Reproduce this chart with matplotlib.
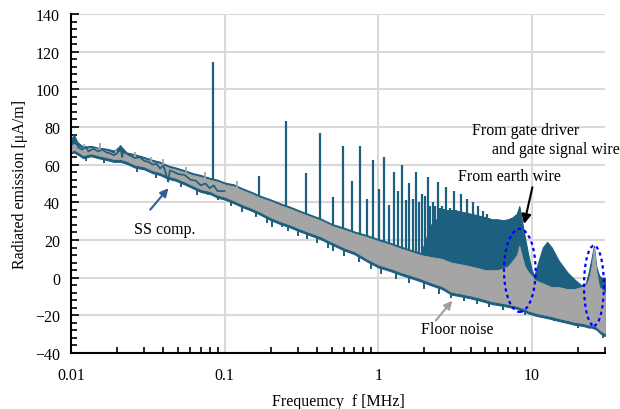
import numpy as np
import matplotlib
matplotlib.use("Agg")
import matplotlib.pyplot as plt
from matplotlib.patches import Ellipse
from matplotlib.ticker import MultipleLocator, LogLocator, NullFormatter

# ---------------- data ----------------
# band frequencies [MHz]
F_band = [0.0100, 0.0104, 0.0110, 0.0120, 0.0135, 0.0150, 0.0170, 0.0190, 0.0210, 0.0230,
          0.0260, 0.0300, 0.0340, 0.0380, 0.0430, 0.0480, 0.0550, 0.0620, 0.0700, 0.0800,
          0.0900, 0.1000, 0.1150, 0.1300, 0.1500, 0.1700, 0.2000, 0.2300, 0.2700, 0.3100,
          0.3600, 0.4200, 0.5000, 0.6000, 0.7000, 0.8500, 1.000, 1.200, 1.400, 1.600,
          1.900, 2.200, 2.600, 3.000, 3.500, 4.000, 4.500, 5.000, 5.500, 6.000,
          6.500, 7.000, 7.500, 8.000, 8.300, 8.600, 9.000, 9.500, 10.00, 10.40,
          11.00, 11.80, 12.60, 13.50, 15.00, 17.00, 19.00, 21.00, 22.50, 23.50,
          24.50, 25.40, 26.30, 27.50, 28.50, 30.00]
# floor noise (gray) band edges [dB]
gray_hi = [70, 71, 70, 68.5, 69, 68.5, 67.5, 66, 67, 65.5,
           64.5, 63, 61.5, 60.5, 58.5, 57.5, 56, 54.5, 53.5, 52,
           51, 49.5, 48.5, 46.5, 44.5, 42.5, 40.5, 38.5, 36.5, 34.5,
           32.5, 30.5, 27.5, 25.5, 23.5, 21.5, 19.5, 17.5, 15.5, 14,
           12, 11, 10, 8, 7, 6, 5, 4, 4, 4,
           5, 6, 9, 12, 17, 12, 6, 3, 1, -1,
           -2, -3, -4, -5, -5, -6, -6, -5, -4, -1,
           6, 16, 4, -5, -6, -8]
gray_lo = [67, 68, 67, 65, 66, 65, 64, 63, 63, 62,
           60, 59, 57, 56, 54, 53, 51, 49, 47, 46,
           44, 43, 41, 39, 37, 35, 32, 30, 28, 26,
           24, 22, 19, 16, 14, 10, 7, 5, 3, 1.5,
           -0.5, -2.5, -4.5, -7.5, -8.5, -9.5, -10.5, -11.5, -12.5, -13,
           -13.5, -14, -14.5, -15, -15.5, -16, -16.5, -17.5, -18, -18.5,
           -19, -19.5, -20, -20.5, -21.5, -22.5, -23.5, -24, -24.5, -25,
           -25, -25.5, -26, -27.5, -28.5, -29.5]
# measured emission (teal) band edges [dB]
teal_hi = [72, 76, 72, 69.5, 70, 69, 68.5, 67.5, 70, 66.5,
           65.5, 64, 62.5, 61.5, 59.5, 58.5, 57, 55.5, 54.5, 53,
           52, 50.5, 49.5, 47.5, 45.5, 43.5, 41.5, 39.5, 37.5, 35.5,
           33.5, 31.5, 28.5, 26.5, 24.5, 22.5, 20.5, 18.5, 16.5, 15,
           13, 28, 34, 36, 35, 34, 33, 32, 31, 31,
           30.5, 31, 32, 34, 38, 31, 22, 12, 4, 1,
           8, 16, 19, 16, 9, 3, -1, -4, -3, 3,
           10, 17, 6, 1, 0, 0]
teal_lo = [66, 66.5, 65.5, 63.5, 64.5, 63.5, 62.5, 61.5, 61.5, 60.5,
           58.5, 57.5, 55.5, 54.5, 52.5, 51.5, 49.5, 47.5, 45.5, 44.5,
           42.5, 41.5, 39.5, 37.5, 35.5, 33.5, 30.5, 28.5, 26.5, 24.5,
           22.5, 20.5, 17.5, 14.5, 12.5, 8.5, 5.5, 3.5, 1.5, 0,
           -2, -4, -6, -9, -10, -11, -12, -13, -14, -14.5,
           -15, -15.5, -16, -16.5, -17, -17.5, -18, -19, -19.5, -20,
           -20.5, -21, -21.5, -22, -23, -24, -25, -25.5, -26, -26.5,
           -26.5, -27, -27.5, -29, -30, -31]

# low-frequency part of the measured trace, visible over the floor noise
lf_f = [0.0100, 0.0102, 0.0105, 0.0108, 0.0112, 0.0118, 0.0125, 0.0130, 0.0140, 0.0150,
        0.0160, 0.0170, 0.0180, 0.0190, 0.0200, 0.0210, 0.0215, 0.0220, 0.0240, 0.0260,
        0.0280, 0.0300, 0.0320, 0.0340, 0.0360, 0.0380, 0.0400, 0.0430, 0.0440, 0.0470,
        0.0500, 0.0550, 0.0600, 0.0650, 0.0700, 0.0750, 0.0800, 0.0850, 0.0900, 0.1000]
lf_db = [70, 73, 75.5, 72, 69, 68, 69.5, 67, 68.5, 67,
         68, 66.5, 66, 65, 66, 70, 64, 67, 65, 63.5,
         64, 62, 61.5, 60, 60.5, 58, 59.5, 51, 57, 56,
         55, 54.5, 52, 51.5, 49, 50, 47.5, 49, 46, 46]

# downward noise dips of the measured emission
dip_f = [0.0125, 0.0165, 0.027, 0.036, 0.043, 0.052, 0.066, 0.078, 0.090, 0.110,
         0.130, 0.160, 0.190, 0.205, 0.235, 0.260, 0.300, 0.345, 0.400, 0.470,
         0.510, 0.600, 0.750, 0.900, 1.050, 1.300, 1.600, 2.000, 2.500, 3.000,
         3.600, 4.400, 5.300, 6.500, 9.000, 14.00, 20.00, 29.00]
dip_db = [62, 61, 56, 53, 50.6, 48, 44, 44, 41, 38,
          35, 32, 29, 27, 27, 25, 22, 20.5, 18.5, 15.5,
          14, 11.5, 8.5, 4.5, 2, -0.5, -3, -6, -8.5, -11,
          -12.5, -14, -15.5, -17, -20, -23, -26.5, -32]
# upward noise peaks of the floor noise
gpk_f = [0.0122, 0.0155, 0.0195, 0.026, 0.033, 0.040, 0.056, 0.075, 0.120]
gpk_db = [71, 71.5, 68.5, 66.5, 64, 63, 59, 56, 51.5]

# harmonic spikes of the measured emission
spike_f = [0.084, 0.168, 0.253, 0.337, 0.421, 0.505, 0.589, 0.674, 0.758, 0.842,
           0.926, 1.010, 1.095, 1.179, 1.263, 1.347, 1.431, 1.516, 1.600, 1.684,
           1.768, 1.852, 1.937, 2.021, 2.105, 2.189, 2.273, 2.358, 2.442, 2.526,
           2.610, 2.694, 2.779, 2.863, 2.947, 3.031, 3.115, 3.200, 3.284, 3.368,
           3.452, 3.536, 3.620, 3.705, 3.789, 3.873, 3.957, 4.041, 4.126, 4.210,
           4.294, 4.378, 4.463, 4.547, 4.631, 4.715, 4.799, 4.884, 4.968, 5.052,
           5.136, 5.221, 5.305, 5.389]
spike_db = [114.5, 54, 83, 55.5, 77, 43, 70, 51.5, 70, 42,
            62.7, 47, 64.3, 38.6, 56, 46, 60, 41, 50, 42,
            56, 40, 44.4, 43.5, 53.3, 38, 40, 38, 50.6, 37,
            38, 36.5, 48, 36, 37, 35.5, 46.2, 36, 35, 35,
            44.4, 35, 34.5, 34, 41.8, 34, 34, 33.5, 40, 33,
            33, 33, 38.2, 32.5, 32.5, 32, 35.6, 32, 32, 31.5,
            33.8, 31.5, 31.5, 31]

# axis ticks
x_ticks = [0.01, 0.1, 1, 10]
x_ticklabels = ["0.01", "0.1", "1", "10"]
y_ticks = [-40, -20, 0, 20, 40, 60, 80, 100, 120, 140]

# ---------------- style ----------------
TEAL = "#1d5f7e"
GRAY = "#a5a5a5"
plt.rcParams['font.family'] = ['Liberation Serif', 'DejaVu Serif']
FS = 11.5

fig = plt.figure(figsize=(6.2, 4.1), dpi=100)
ax = fig.add_axes([0.1145, 0.1366, 0.8613, 0.8268])

ax.set_xscale("log")
ax.set_xlim(0.01, 30)
ax.set_ylim(-40, 140)

logF = np.log10(F_band)
mid = (np.array(gray_hi) + np.array(gray_lo)) / 2

# measured band (teal) behind floor noise
ax.fill_between(F_band, teal_lo, teal_hi, color=TEAL, lw=0.8, ec=TEAL, zorder=2)

# spikes and dips of measured emission
base = np.interp(np.log10(spike_f), logF, mid)
ax.vlines(spike_f, base, spike_db, color=TEAL, lw=1.6, zorder=3)
dbase = np.interp(np.log10(dip_f), logF, mid)
ax.vlines(dip_f, dbase, dip_db, color=TEAL, lw=1.4, zorder=3)

# floor noise (gray) on top
ax.fill_between(F_band, gray_lo, gray_hi, color=GRAY, lw=0.6, ec=GRAY, zorder=4)
gbase = np.interp(np.log10(gpk_f), logF, mid)
ax.vlines(gpk_f, gbase, gpk_db, color=GRAY, lw=1.3, zorder=4)

# low-frequency measured trace over the floor noise
ax.plot(lf_f, lf_db, color=TEAL, lw=1.2, zorder=5)

# grid
ax.grid(True, which="major", color="#d9d9d9", lw=1.5, zorder=0)
ax.set_axisbelow(True)

# spines
for s in ["top", "right"]:
    ax.spines[s].set_visible(False)
for s in ["left", "bottom"]:
    ax.spines[s].set_linewidth(1.5)
    ax.spines[s].set_color("black")
    ax.spines[s].set_zorder(6)

ax.set_xticks(x_ticks)
ax.set_xticklabels(x_ticklabels)
ax.xaxis.set_minor_locator(LogLocator(base=10, subs=np.arange(2, 10)))
ax.xaxis.set_minor_formatter(NullFormatter())
ax.set_yticks(y_ticks)
ax.yaxis.set_minor_locator(MultipleLocator(4))
ax.tick_params(axis="both", which="both", direction="in", color="black", labelsize=FS)
ax.tick_params(axis="x", which="major", length=0, pad=10)
ax.tick_params(axis="x", which="minor", length=4, width=1.2)
ax.tick_params(axis="y", which="major", length=6, width=1.2, pad=8)
ax.tick_params(axis="y", which="minor", length=4, width=1.2)

ax.set_xlabel("Frequemcy  f [MHz]", fontsize=FS, labelpad=7)
ax.set_ylabel("Radiated emission [\u03bcA/m]", fontsize=FS, labelpad=5)

# ellipses (axes-fraction coordinates computed from data values)
def xfrac(f):
    return (np.log10(f) - np.log10(0.01)) / (np.log10(30) - np.log10(0.01))

def yfrac(v):
    return (v + 40) / 180.0

for f_l, f_r, v_lo, v_hi in [(6.6, 10.6, -18.2, 25.9), (21.9, 29.5, -25.5, 17.0)]:
    cx = (xfrac(f_l) + xfrac(f_r)) / 2
    cy = (yfrac(v_lo) + yfrac(v_hi)) / 2
    e = Ellipse((cx, cy), xfrac(f_r) - xfrac(f_l), yfrac(v_hi) - yfrac(v_lo),
                transform=ax.transAxes, fill=False, ec="#0000ff", lw=1.6,
                ls=(0, (1.5, 1.5)), zorder=7)
    ax.add_patch(e)

# annotations
ax.annotate("", xy=(0.0431, 47.5), xytext=(0.0328, 36.1),
            arrowprops=dict(arrowstyle="-|>", color="#2e5e96", lw=1.5,
                            mutation_scale=12, shrinkA=0, shrinkB=0), zorder=8)
ax.text(0.041, 25.9, "SS comp.", fontsize=FS, ha="center", va="center", zorder=8)

ax.annotate("", xy=(3.04, -12.2), xytext=(2.37, -22.8),
            arrowprops=dict(arrowstyle="-|>", color="#a0a0a0", lw=1.5,
                            mutation_scale=12, shrinkA=0, shrinkB=0), zorder=8)
ax.text(3.25, -27.2, "Floor noise", fontsize=FS, ha="center", va="center", zorder=8)

ax.annotate("", xy=(8.92, 28.5), xytext=(10.1, 48),
            arrowprops=dict(arrowstyle="-|>", color="black", lw=1.5,
                            mutation_scale=14, shrinkA=0, shrinkB=0), zorder=8)
ax.text(7.19, 54.2, "From earth wire", fontsize=FS, ha="center", va="center", zorder=8)
ax.text(4.07, 78.4, "From gate driver", fontsize=FS, ha="left", va="center", zorder=8)
ax.text(5.5, 68.3, "and gate signal wire", fontsize=FS, ha="left", va="center",
        zorder=8, clip_on=False)

fig.savefig("out.png", dpi=100)
